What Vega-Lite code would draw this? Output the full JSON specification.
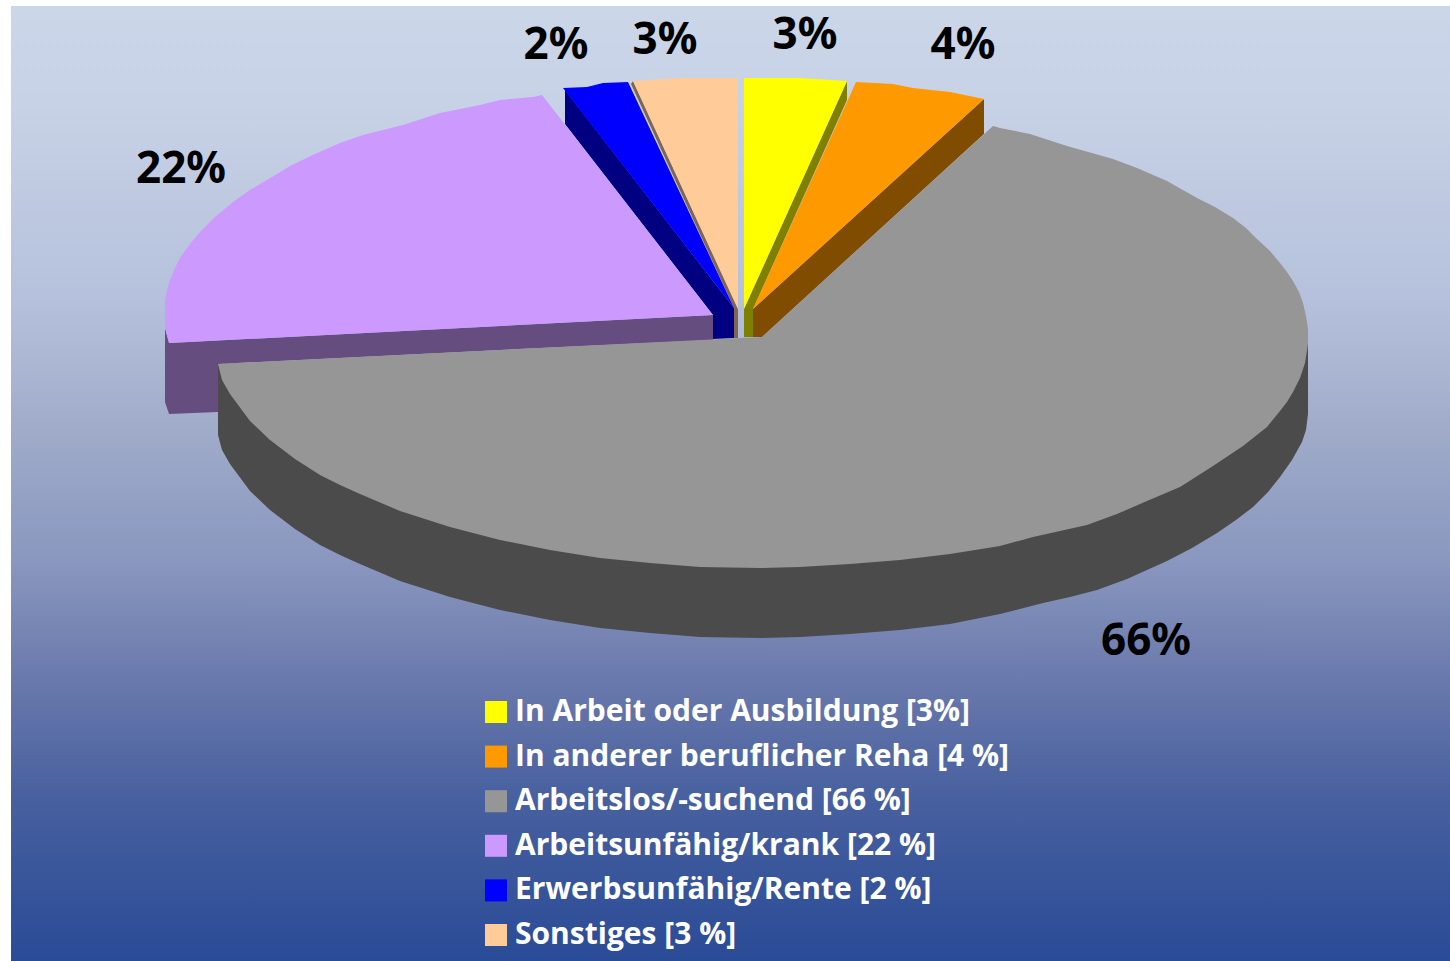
{
"$schema":"https://vega.github.io/schema/vega-lite/v6.json",
"width":1450,"height":961,"padding":0,"autosize":{"type":"none"},"background":"white",
"config":{"view":{"stroke":null}},
"datasets":{
"panel":[{"x0":11,"x1":1450,"y0":6,"y1":961}],
"slices":[
{"id":"a","label":"In Arbeit oder Ausbildung [3%]","pct":"3%","lx":805,"ly":36},
{"id":"b","label":"In anderer beruflicher Reha [4 %]","pct":"4%","lx":963,"ly":46},
{"id":"c","label":"Arbeitslos/-suchend [66 %]","pct":"66%","lx":1146,"ly":642},
{"id":"d","label":"Arbeitsunfähig/krank [22 %]","pct":"22%","lx":181,"ly":170},
{"id":"e","label":"Erwerbsunfähig/Rente [2 %]","pct":"2%","lx":556,"ly":46},
{"id":"f","label":"Sonstiges [3 %]","pct":"3%","lx":665,"ly":41}],
"walls":[
{"id":"d","i":0,"x":165,"y":328},{"id":"d","i":1,"x":169,"y":343},{"id":"d","i":2,"x":713,"y":315},{"id":"d","i":3,"x":713,"y":340},{"id":"d","i":4,"x":500,"y":350},{"id":"d","i":5,"x":218,"y":364},{"id":"d","i":6,"x":218,"y":412},{"id":"d","i":7,"x":169,"y":414},{"id":"d","i":8,"x":165,"y":402},
{"id":"e","i":0,"x":565,"y":90},{"id":"e","i":1,"x":565,"y":124},{"id":"e","i":2,"x":713,"y":315},{"id":"e","i":3,"x":713,"y":339},{"id":"e","i":4,"x":734,"y":338},{"id":"e","i":5,"x":734,"y":308},
{"id":"f","i":0,"x":633,"y":81},{"id":"f","i":1,"x":738,"y":309},{"id":"f","i":2,"x":738,"y":338},{"id":"f","i":3,"x":734,"y":338},{"id":"f","i":4,"x":734,"y":308},{"id":"f","i":5,"x":631,"y":84},
{"id":"a","i":0,"x":744,"y":309},{"id":"a","i":1,"x":847,"y":81},{"id":"a","i":2,"x":847,"y":100},{"id":"a","i":3,"x":753,"y":309},{"id":"a","i":4,"x":753,"y":337},{"id":"a","i":5,"x":744,"y":337},
{"id":"b","i":0,"x":753,"y":309},{"id":"b","i":1,"x":984,"y":99},{"id":"b","i":2,"x":984,"y":134},{"id":"b","i":3,"x":762,"y":337},{"id":"b","i":4,"x":753,"y":337},
{"id":"c","i":0,"x":218,"y":364},{"id":"c","i":1,"x":1308,"y":344},{"id":"c","i":2,"x":1308,"y":414},{"id":"c","i":3,"x":1306,"y":430},{"id":"c","i":4,"x":1302,"y":442},{"id":"c","i":5,"x":1292,"y":460},{"id":"c","i":6,"x":1280,"y":477},{"id":"c","i":7,"x":1268,"y":492},{"id":"c","i":8,"x":1253,"y":507},{"id":"c","i":9,"x":1236,"y":520},{"id":"c","i":10,"x":1217,"y":533},{"id":"c","i":11,"x":1192,"y":548},{"id":"c","i":12,"x":1167,"y":561},{"id":"c","i":13,"x":1147,"y":570},{"id":"c","i":14,"x":1127,"y":579},{"id":"c","i":15,"x":1097,"y":590},{"id":"c","i":16,"x":1070,"y":597},{"id":"c","i":17,"x":1043,"y":603},{"id":"c","i":18,"x":1000,"y":614},{"id":"c","i":19,"x":950,"y":624},{"id":"c","i":20,"x":900,"y":630},{"id":"c","i":21,"x":850,"y":634},{"id":"c","i":22,"x":800,"y":637},{"id":"c","i":23,"x":760,"y":638},{"id":"c","i":24,"x":700,"y":637},{"id":"c","i":25,"x":650,"y":633},{"id":"c","i":26,"x":600,"y":628},{"id":"c","i":27,"x":550,"y":620},{"id":"c","i":28,"x":500,"y":610},{"id":"c","i":29,"x":450,"y":597},{"id":"c","i":30,"x":400,"y":581},{"id":"c","i":31,"x":360,"y":564},{"id":"c","i":32,"x":340,"y":555},{"id":"c","i":33,"x":320,"y":545},{"id":"c","i":34,"x":295,"y":529},{"id":"c","i":35,"x":270,"y":510},{"id":"c","i":36,"x":250,"y":491},{"id":"c","i":37,"x":230,"y":464},{"id":"c","i":38,"x":222,"y":450},{"id":"c","i":39,"x":218,"y":435}
],
"tops":[
{"id":"a","i":0,"x":744,"y":309},{"id":"a","i":1,"x":744,"y":78},{"id":"a","i":2,"x":800,"y":78},{"id":"a","i":3,"x":847,"y":81},
{"id":"b","i":0,"x":753,"y":309},{"id":"b","i":1,"x":856,"y":82},{"id":"b","i":2,"x":893,"y":84},{"id":"b","i":3,"x":913,"y":88},{"id":"b","i":4,"x":950,"y":92},{"id":"b","i":5,"x":984,"y":99},
{"id":"d","i":0,"x":713,"y":315},{"id":"d","i":1,"x":169,"y":343},{"id":"d","i":2,"x":165,"y":328},{"id":"d","i":3,"x":165,"y":300},{"id":"d","i":4,"x":167,"y":290},{"id":"d","i":5,"x":170,"y":280},{"id":"d","i":6,"x":175,"y":268},{"id":"d","i":7,"x":180,"y":258},{"id":"d","i":8,"x":190,"y":244},{"id":"d","i":9,"x":200,"y":232},{"id":"d","i":10,"x":215,"y":217},{"id":"d","i":11,"x":233,"y":202},{"id":"d","i":12,"x":250,"y":190},{"id":"d","i":13,"x":267,"y":180},{"id":"d","i":14,"x":290,"y":166},{"id":"d","i":15,"x":317,"y":153},{"id":"d","i":16,"x":340,"y":143},{"id":"d","i":17,"x":363,"y":135},{"id":"d","i":18,"x":403,"y":125},{"id":"d","i":19,"x":440,"y":113},{"id":"d","i":20,"x":480,"y":105},{"id":"d","i":21,"x":500,"y":100},{"id":"d","i":22,"x":533,"y":97},{"id":"d","i":23,"x":542,"y":95},
{"id":"e","i":0,"x":734,"y":308},{"id":"e","i":1,"x":563,"y":88},{"id":"e","i":2,"x":587,"y":87},{"id":"e","i":3,"x":603,"y":83},{"id":"e","i":4,"x":628,"y":82},
{"id":"f","i":0,"x":738,"y":309},{"id":"f","i":1,"x":633,"y":81},{"id":"f","i":2,"x":680,"y":78},{"id":"f","i":3,"x":738,"y":78},
{"id":"c","i":0,"x":218,"y":364},{"id":"c","i":1,"x":762,"y":337},{"id":"c","i":2,"x":993,"y":126},{"id":"c","i":3,"x":1000,"y":128},{"id":"c","i":4,"x":1030,"y":134},{"id":"c","i":5,"x":1067,"y":146},{"id":"c","i":6,"x":1113,"y":159},{"id":"c","i":7,"x":1137,"y":168},{"id":"c","i":8,"x":1167,"y":181},{"id":"c","i":9,"x":1197,"y":198},{"id":"c","i":10,"x":1215,"y":207},{"id":"c","i":11,"x":1233,"y":218},{"id":"c","i":12,"x":1246,"y":228},{"id":"c","i":13,"x":1257,"y":239},{"id":"c","i":14,"x":1270,"y":251},{"id":"c","i":15,"x":1280,"y":263},{"id":"c","i":16,"x":1287,"y":272},{"id":"c","i":17,"x":1293,"y":281},{"id":"c","i":18,"x":1299,"y":292},{"id":"c","i":19,"x":1303,"y":303},{"id":"c","i":20,"x":1306,"y":316},{"id":"c","i":21,"x":1308,"y":329},{"id":"c","i":22,"x":1308,"y":344},{"id":"c","i":23,"x":1305,"y":363},{"id":"c","i":24,"x":1300,"y":378},{"id":"c","i":25,"x":1293,"y":392},{"id":"c","i":26,"x":1287,"y":402},{"id":"c","i":27,"x":1280,"y":411},{"id":"c","i":28,"x":1267,"y":427},{"id":"c","i":29,"x":1243,"y":446},{"id":"c","i":30,"x":1213,"y":466},{"id":"c","i":31,"x":1180,"y":487},{"id":"c","i":32,"x":1147,"y":501},{"id":"c","i":33,"x":1117,"y":514},{"id":"c","i":34,"x":1087,"y":525},{"id":"c","i":35,"x":1060,"y":531},{"id":"c","i":36,"x":1033,"y":537},{"id":"c","i":37,"x":1000,"y":546},{"id":"c","i":38,"x":950,"y":554},{"id":"c","i":39,"x":900,"y":560},{"id":"c","i":40,"x":850,"y":564},{"id":"c","i":41,"x":800,"y":567},{"id":"c","i":42,"x":760,"y":568},{"id":"c","i":43,"x":700,"y":567},{"id":"c","i":44,"x":650,"y":563},{"id":"c","i":45,"x":600,"y":558},{"id":"c","i":46,"x":550,"y":550},{"id":"c","i":47,"x":500,"y":540},{"id":"c","i":48,"x":450,"y":527},{"id":"c","i":49,"x":400,"y":511},{"id":"c","i":50,"x":360,"y":494},{"id":"c","i":51,"x":340,"y":485},{"id":"c","i":52,"x":320,"y":475},{"id":"c","i":53,"x":295,"y":459},{"id":"c","i":54,"x":270,"y":440},{"id":"c","i":55,"x":250,"y":421},{"id":"c","i":56,"x":230,"y":394},{"id":"c","i":57,"x":222,"y":380}
]
},
"data":{"name":"tops"},
"layer":[
{"data":{"name":"panel"},
 "mark":{"type":"rect","color":{"gradient":"linear","x1":0,"y1":0,"x2":0,"y2":1,"stops":[{"offset":0,"color":"#CCD6E9"},{"offset":0.1,"color":"#C8D2E6"},{"offset":0.31,"color":"#B5C1DC"},{"offset":0.44,"color":"#A0ACC9"},{"offset":0.58,"color":"#8A97BF"},{"offset":0.706,"color":"#6A79AC"},{"offset":0.83,"color":"#47609F"},{"offset":1,"color":"#2A4B97"}]}},
 "encoding":{
  "x":{"field":"x0","type":"quantitative","scale":{"domain":[0,1450],"nice":false,"zero":false},"axis":null},
  "x2":{"field":"x1"},
  "y":{"field":"y0","type":"quantitative","scale":{"domain":[961,0],"nice":false,"zero":false},"axis":null},
  "y2":{"field":"y1"}}},
{"data":{"name":"walls"},
 "mark":{"type":"line","filled":true,"interpolate":"linear"},
 "encoding":{
  "x":{"field":"x","type":"quantitative","scale":{"domain":[0,1450],"nice":false,"zero":false},"axis":null},
  "y":{"field":"y","type":"quantitative","scale":{"domain":[961,0],"nice":false,"zero":false},"axis":null},
  "order":{"field":"i","type":"quantitative"},
  "color":{"field":"id","type":"nominal","scale":{"domain":["a","b","c","d","e","f"],"range":["#808000","#804D00","#4B4B4B","#664D80","#000080","#806650"]},"legend":null}}},
{"data":{"name":"tops"},
 "transform":[{"lookup":"id","from":{"data":{"name":"slices"},"key":"id","fields":["label"]}}],
 "mark":{"type":"line","filled":true,"interpolate":"linear"},
 "encoding":{
  "x":{"field":"x","type":"quantitative","scale":{"domain":[0,1450],"nice":false,"zero":false},"axis":null},
  "y":{"field":"y","type":"quantitative","scale":{"domain":[961,0],"nice":false,"zero":false},"axis":null},
  "order":{"field":"i","type":"quantitative"},
  "color":{"field":"label","type":"nominal",
   "scale":{"domain":["In Arbeit oder Ausbildung [3%]","In anderer beruflicher Reha [4 %]","Arbeitslos/-suchend [66 %]","Arbeitsunfähig/krank [22 %]","Erwerbsunfähig/Rente [2 %]","Sonstiges [3 %]"],"range":["#FFFF00","#FF9900","#969696","#CC99FF","#0000FF","#FFCC99"]},
   "legend":{"title":null,"orient":"none","legendX":481,"legendY":697,"symbolType":"square","symbolSize":484,"symbolStrokeWidth":0,"symbolOpacity":1,"labelColor":"white","labelFont":"Open Sans","labelFontWeight":"bold","labelFontSize":30,"labelOffset":4,"labelLimit":700,"rowPadding":14.6,"padding":0}}}},
{"data":{"name":"slices"},
 "mark":{"type":"text","font":"Noto Sans","fontWeight":"bold","fontSize":44,"color":"black","align":"center","baseline":"middle"},
 "encoding":{
  "x":{"field":"lx","type":"quantitative","scale":{"domain":[0,1450],"nice":false,"zero":false},"axis":null},
  "y":{"field":"ly","type":"quantitative","scale":{"domain":[961,0],"nice":false,"zero":false},"axis":null},
  "text":{"field":"pct","type":"nominal"}}}
],
"resolve":{"scale":{"color":"independent"}}
}
